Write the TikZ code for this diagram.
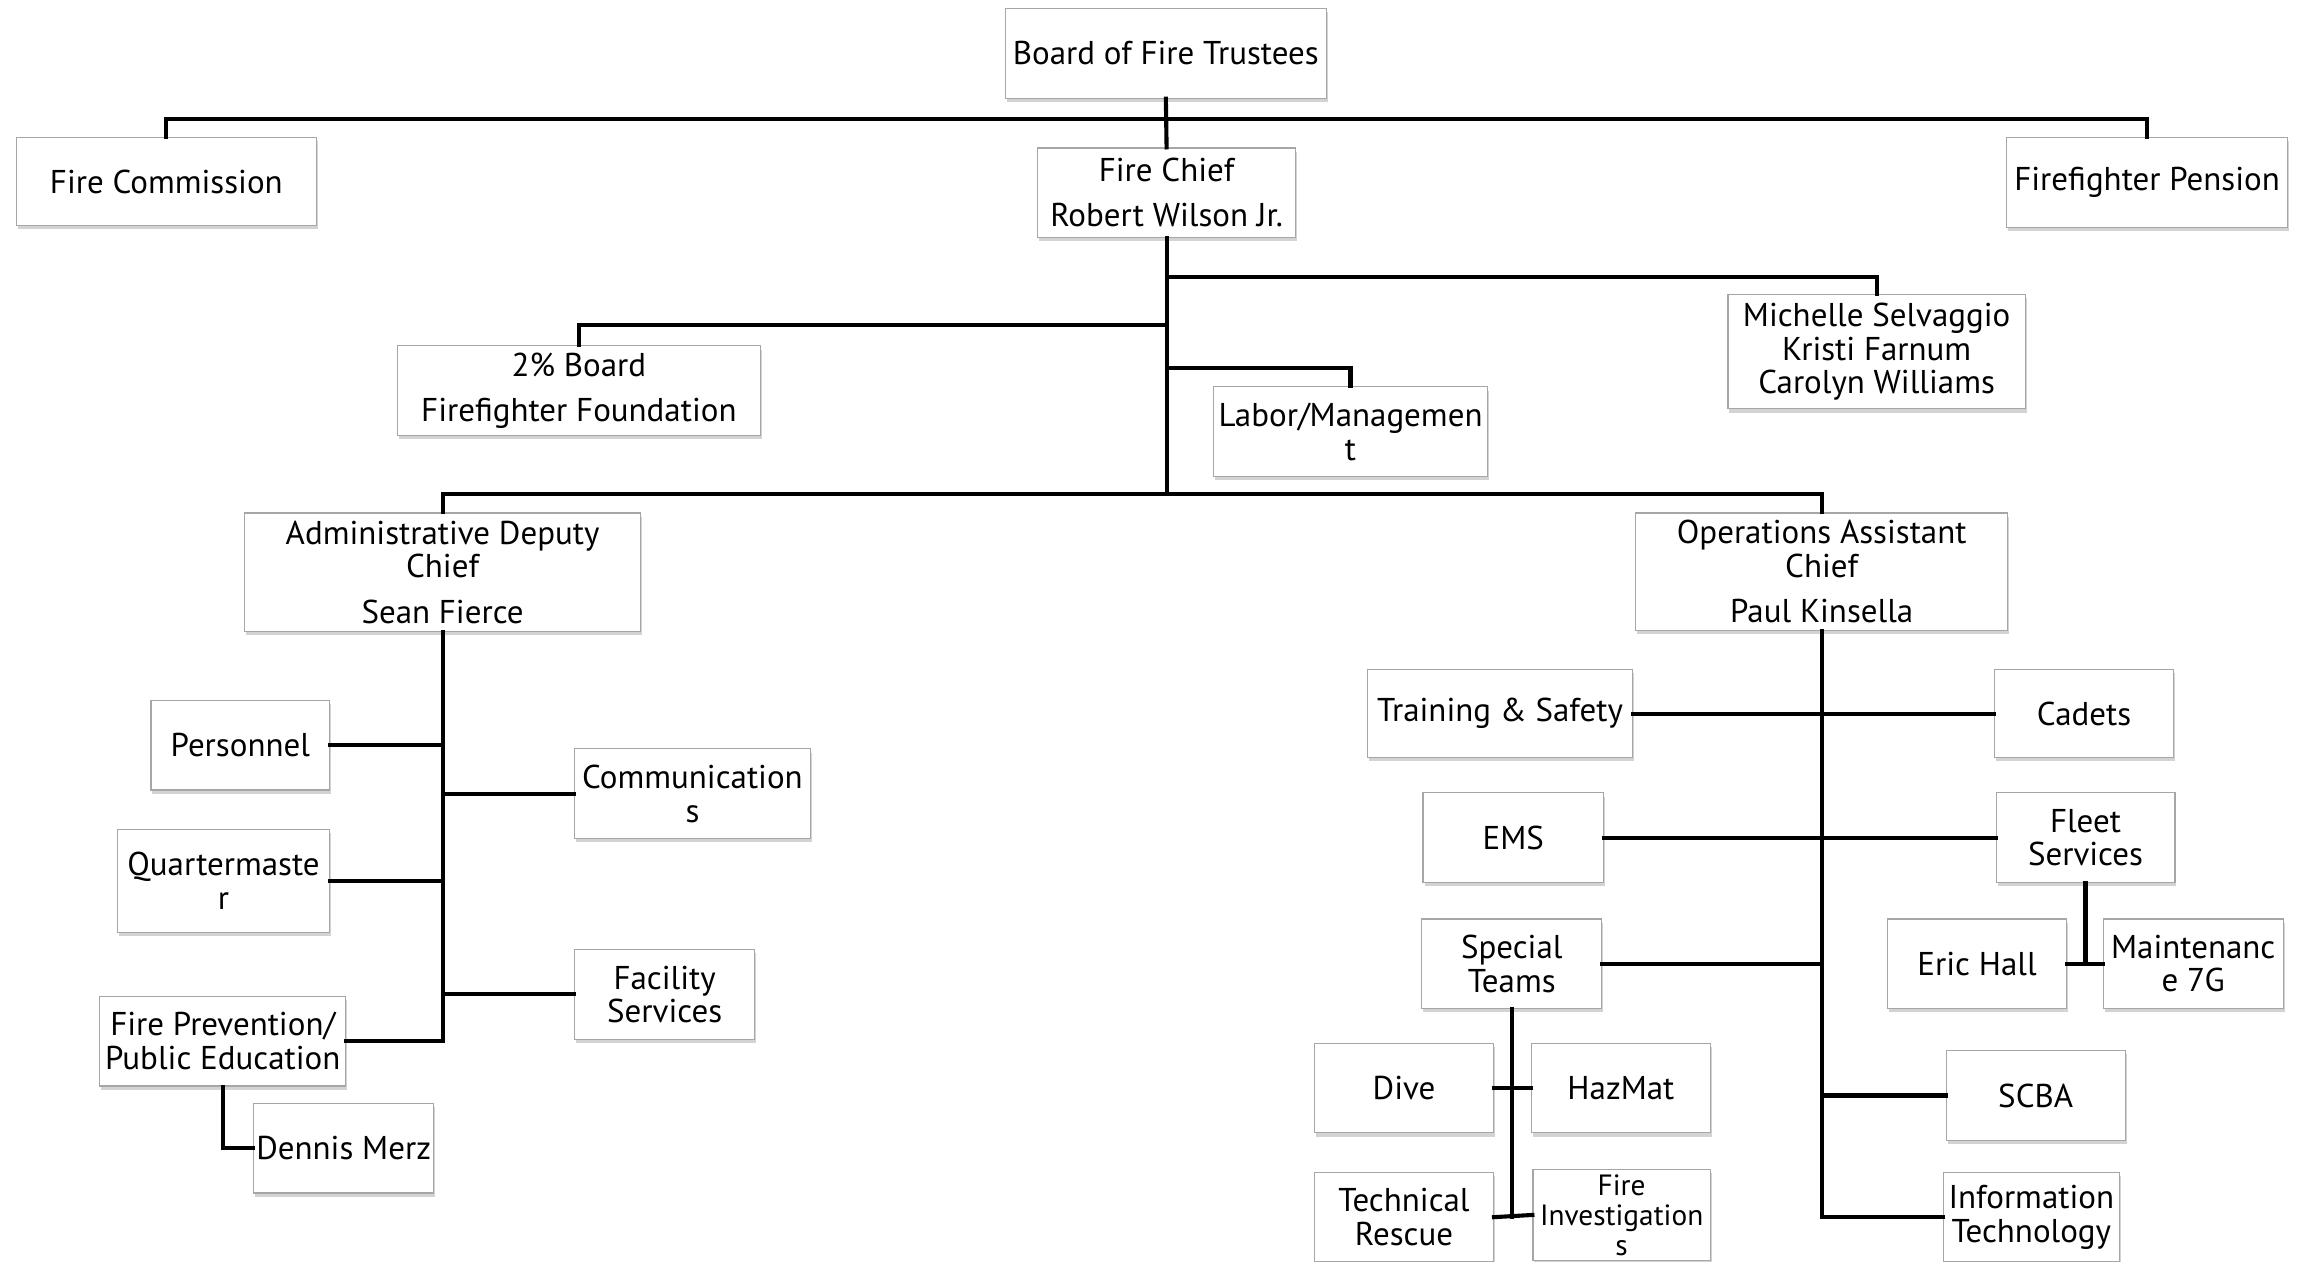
\documentclass[tikz,border=0pt]{standalone}
\usepackage{fontspec}
\setmainfont{PT Sans}
\usetikzlibrary{shadows}
\begin{document}
\begin{tikzpicture}[x=1pt,y=-1pt,line cap=rect,
  unit/.style={draw=gray!70,line width=0.8pt,fill=white,align=center,inner sep=1pt,
    font=\fontsize{22.5}{23}\selectfont,
    drop shadow={shadow xshift=1pt,shadow yshift=-2.5pt,opacity=0.35,fill=gray}},
  link/.style={line width=2.8pt,black}]
\useasboundingbox (0,0) rectangle (1568,861);
\node[unit,minimum width=219pt,minimum height=61pt] (board) at (795.5,36.5) {Board of Fire Trustees};
\node[unit,minimum width=205pt,minimum height=60pt] (commission) at (113.5,124) {Fire Commission};
\node[unit,minimum width=192pt,minimum height=61pt] (pension) at (1465,124.5) {Firefighter Pension};
\node[unit,minimum width=176pt,minimum height=61pt] (chief) at (796,131.5) {Fire Chief\\[8pt]Robert Wilson Jr.};
\node[unit,minimum width=203pt,minimum height=78pt] (staff) at (1280.5,240) {Michelle Selvaggio\\Kristi Farnum\\Carolyn Williams};
\node[unit,minimum width=248pt,minimum height=61pt] (twopct) at (395,266.5) {2\% Board\\[8pt]Firefighter Foundation};
\node[unit,minimum width=187pt,minimum height=61pt] (labor) at (921.5,294.5) {Labor/Managemen\\t};
\node[unit,minimum width=270pt,minimum height=81pt] (admin) at (302,390.5) {Administrative Deputy\\Chief\\[8pt]Sean Fierce};
\node[unit,minimum width=254pt,minimum height=80pt] (ops) at (1243,390) {Operations Assistant\\Chief\\[8pt]Paul Kinsella};
\node[unit,minimum width=122pt,minimum height=61pt] (personnel) at (164,508.5) {Personnel};
\node[unit,minimum width=161pt,minimum height=61pt] (comms) at (472.5,541.5) {Communication\\s};
\node[unit,minimum width=145pt,minimum height=70pt] (quarter) at (152.5,601) {Quartermaste\\r};
\node[unit,minimum width=123pt,minimum height=61pt] (facility) at (453.5,678.5) {Facility\\Services};
\node[unit,minimum width=168pt,minimum height=61pt] (prevention) at (152,710.5) {Fire Prevention/\\Public Education};
\node[unit,minimum width=123pt,minimum height=61pt] (merz) at (234.5,783.5) {Dennis Merz};
\node[unit,minimum width=181pt,minimum height=60pt] (training) at (1023.5,487) {Training \& Safety};
\node[unit,minimum width=122pt,minimum height=60pt] (cadets) at (1422,487) {Cadets};
\node[unit,minimum width=123pt,minimum height=61pt] (ems) at (1032.5,571.5) {EMS};
\node[unit,minimum width=122pt,minimum height=61pt] (fleet) at (1423,571.5) {Fleet\\Services};
\node[unit,minimum width=122pt,minimum height=61pt] (erichall) at (1349,657.5) {Eric Hall};
\node[unit,minimum width=123pt,minimum height=61pt] (maint) at (1496.5,657.5) {Maintenanc\\e 7G};
\node[unit,minimum width=123pt,minimum height=61pt] (special) at (1031.5,657.5) {Special\\Teams};
\node[unit,minimum width=122pt,minimum height=61pt] (scba) at (1389,747.5) {SCBA};
\node[unit,minimum width=120pt,minimum height=61pt] (infotech) at (1386,830.5) {Information\\Technology};
\node[unit,minimum width=122pt,minimum height=61pt] (dive) at (958,742.5) {Dive};
\node[unit,minimum width=122pt,minimum height=61pt] (hazmat) at (1106,742.5) {HazMat};
\node[unit,minimum width=122pt,minimum height=61pt] (techrescue) at (958,830.5) {Technical\\Rescue};
\node[unit,minimum width=121pt,minimum height=62pt,font=\fontsize{20}{20.5}\selectfont] (fireinv) at (1106.5,829) {Fire\\Investigation\\s};
\coordinate (topbar) at (795.5,81);
\coordinate (midbar) at (796,337);
\coordinate (staffjoin) at (796,189);
\coordinate (twopctjoin) at (796,222);
\coordinate (laborjoin) at (796,251);
\draw[link] (commission.north) |- (topbar) -| (pension.north);
\draw[link] (board.south) -- (chief.north);
\draw[link] (chief.south) -- (midbar);
\draw[link] (admin.north) |- (midbar) -| (ops.north);
\draw[link] (staffjoin) -| (staff.north);
\draw[link] (twopctjoin) -| (twopct.north);
\draw[link] (laborjoin) -| (labor.north);
\draw[link] (admin.south) |- (prevention.east);
\draw[link] (personnel.east) -- (personnel.east -| admin.south);
\draw[link] (quarter.east) -- (quarter.east -| admin.south);
\draw[link] (comms.west) -- (comms.west -| admin.south);
\draw[link] (facility.west) -- (facility.west -| admin.south);
\draw[link] (prevention.south) |- (merz.west);
\draw[link] (ops.south) |- (infotech.west);
\draw[link] (training.east) -- (cadets.west);
\draw[link] (ems.east) -- (fleet.west);
\draw[link] (special.east) -- (special.east -| ops.south);
\draw[link] (scba.west) -- (scba.west -| ops.south);
\draw[link] (fleet.south) -- (fleet.south |- erichall.east);
\draw[link] (erichall.east) -- (maint.west);
\draw[link] (special.south) -- (special.south |- techrescue.east);
\draw[link] (dive.east) -- (hazmat.west);
\draw[link] (techrescue.east) -- (fireinv.west);
\end{tikzpicture}
\end{document}
